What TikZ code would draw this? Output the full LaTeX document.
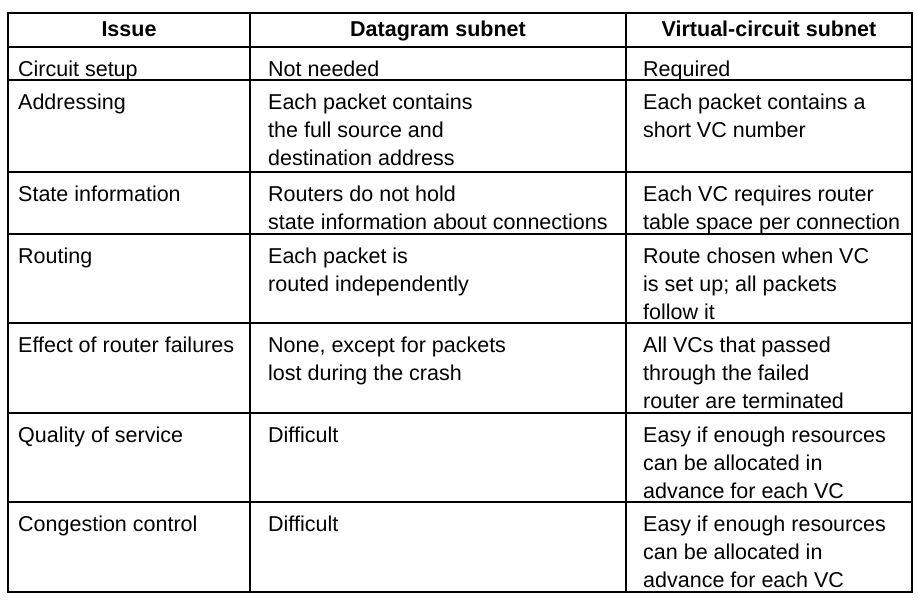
\documentclass[tikz,border=0pt]{standalone}
\usepackage{fontspec}
\setmainfont{Liberation Sans}
\begin{document}
\begin{tikzpicture}[x=1pt,y=-1pt,
  cell/.style={anchor=north west,inner sep=0pt,align=left,font=\fontsize{21.5}{28}\selectfont},
  head/.style={anchor=base,inner sep=0pt,font=\fontsize{21.5}{28}\selectfont\bfseries},
  grid/.style={line width=1.5pt}]
\useasboundingbox (0,0) rectangle (918,602);
\draw[grid,line width=2pt] (8,13) rectangle (912,592);
\foreach \y in {47,80,172,234,323,413,502} \draw[grid] (8,\y) -- (912,\y);
\draw[grid] (250,13) -- (250,592);
\draw[grid] (626,13) -- (626,592);
\node[head] (h1) at (129,37) {Issue};
\node[head] (h2) at (438,37) {Datagram subnet};
\node[head] (h3) at (769,37) {Virtual-circuit subnet};
\foreach \t/\n [count=\i] in {47/{Circuit setup},80/{Addressing},172/{State information},234/{Routing},323/{Effect of router failures},413/{Quality of service},502/{Congestion control}}
  \node[cell] (a\i) at (18,\t+14) {\n};
\node[cell] (b1) at (268,61) {Not needed};
\node[cell] (b2) at (268,94) {Each packet contains\\the full source and\\destination address};
\node[cell] (b3) at (268,186) {Routers do not hold\\state information about connections};
\node[cell] (b4) at (268,248) {Each packet is\\routed independently};
\node[cell] (b5) at (268,337) {None, except for packets\\lost during the crash};
\node[cell] (b6) at (268,427) {Difficult};
\node[cell] (b7) at (268,516) {Difficult};
\node[cell] (c1) at (643,61) {Required};
\node[cell] (c2) at (643,94) {Each packet contains a\\short VC number};
\node[cell] (c3) at (643,186) {Each VC requires router\\table space per connection};
\node[cell] (c4) at (643,248) {Route chosen when VC\\is set up; all packets\\follow it};
\node[cell] (c5) at (643,337) {All VCs that passed\\through the failed\\router are terminated};
\node[cell] (c6) at (643,427) {Easy if enough resources\\can be allocated in\\advance for each VC};
\node[cell] (c7) at (643,516) {Easy if enough resources\\can be allocated in\\advance for each VC};
\end{tikzpicture}
\end{document}
